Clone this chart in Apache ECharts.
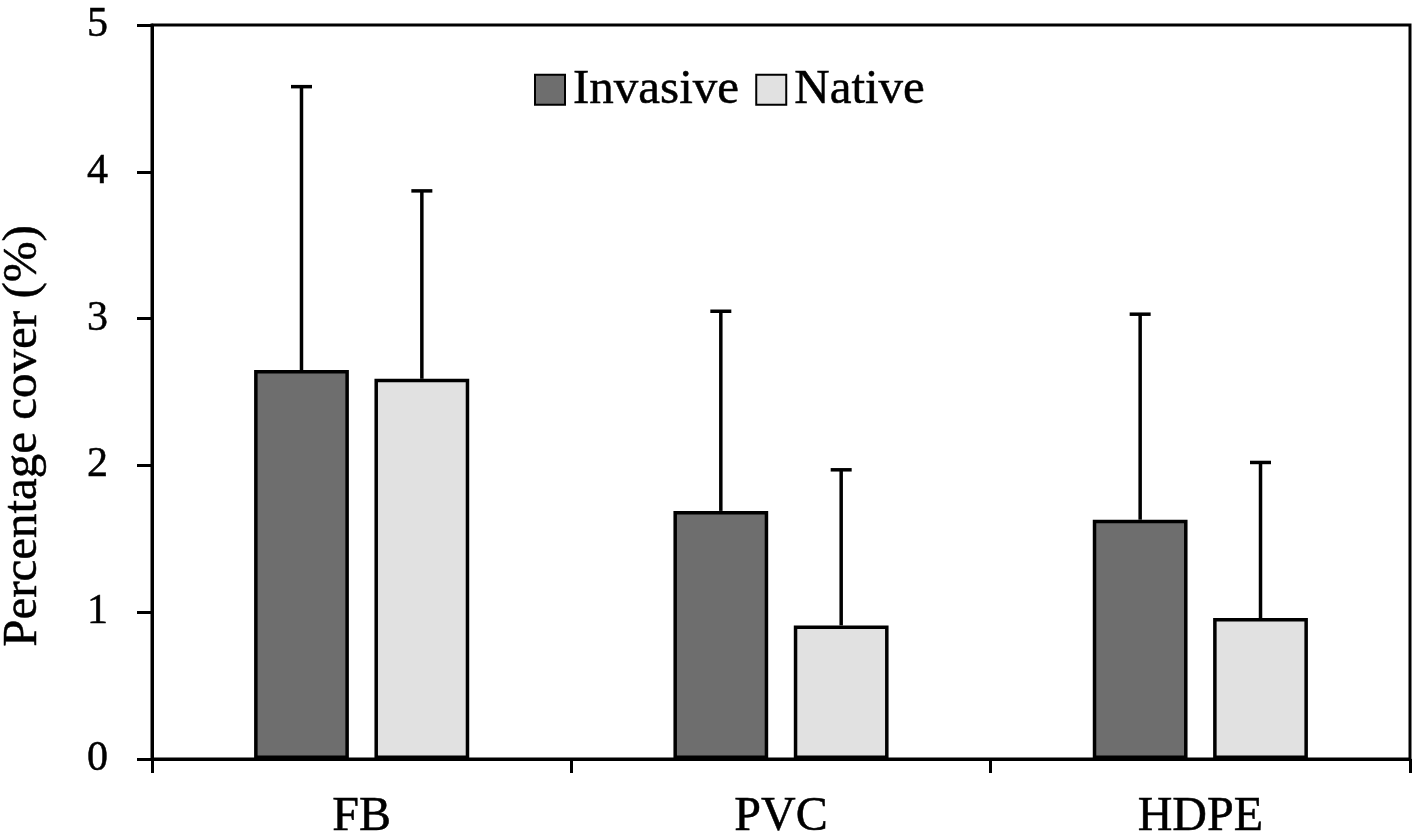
<!DOCTYPE html>
<html>
<head>
<meta charset="utf-8">
<script src="https://cdn.jsdelivr.net/npm/echarts@6/dist/echarts.min.js"></script>
<style>
html,body{margin:0;padding:0;background:#fff;}
#chart{width:1417px;height:839px;}
</style>
</head>
<body>
<div id="chart"></div>
<script>
var categories = ['FB', 'PVC', 'HDPE'];
var invasive = [2.65, 1.69, 1.63];
var native = [2.59, 0.91, 0.96];
var invasiveSD = [1.93, 1.36, 1.40];
var nativeSD = [1.28, 1.06, 1.06];
var yTicks = [0, 1, 2, 3, 4, 5];

var FONT = '"Liberation Serif", "Times New Roman", serif';
var BAR_W = 0.226;
var BAR_GAP = 0.27;
var TB = { textBorderColor: '#000', textBorderWidth: 0.5 };

function ts(size, extra) {
  var o = { fontFamily: FONT, fontSize: size, color: '#000', textBorderColor: TB.textBorderColor, textBorderWidth: TB.textBorderWidth };
  for (var k in extra) o[k] = extra[k];
  return o;
}

function errSeries(name, means, sds, side) {
  var data = means.map(function (m, i) { return [i, m, m + sds[i]]; });
  return {
    type: 'custom',
    name: name + ' error',
    z: 5,
    silent: true,
    data: data,
    renderItem: function (params, api) {
      var band = api.size([1, 0])[0];
      var bw = band * BAR_W;
      var off = side * (bw + bw * BAR_GAP) / 2;
      var base = api.coord([api.value(0), api.value(1)]);
      var top = api.coord([api.value(0), api.value(2)]);
      var x = base[0] + off;
      var cap = 10.5;
      var st = { stroke: '#000', lineWidth: 3.5 };
      return {
        type: 'group',
        children: [
          { type: 'line', shape: { x1: x, y1: base[1], x2: x, y2: top[1] }, style: st },
          { type: 'line', shape: { x1: x - cap, y1: top[1], x2: x + cap, y2: top[1] }, style: st }
        ]
      };
    }
  };
}

var chart = echarts.init(document.getElementById('chart'));
chart.setOption({
  animation: false,
  backgroundColor: '#fff',
  textStyle: { fontFamily: FONT, color: '#000' },
  grid: {
    left: 152, right: 7, top: 25, bottom: 80,
    containLabel: false,
    outerBoundsMode: 'none',
    show: true, borderColor: '#000', borderWidth: 3, backgroundColor: 'transparent'
  },
  legend: {
    left: 529, top: 60,
    itemWidth: 30, itemHeight: 30, itemGap: 16,
    icon: 'rect',
    textStyle: ts(49, { padding: [0, 0, 0, 3] }),
    data: ['Invasive', 'Native']
  },
  xAxis: {
    type: 'category',
    data: categories,
    axisLine: { show: true, lineStyle: { color: '#000', width: 3 } },
    axisTick: { show: true, length: 14, lineStyle: { color: '#000', width: 3 } },
    axisLabel: ts(48, { margin: 34 }),
    splitLine: { show: false }
  },
  yAxis: {
    type: 'value',
    min: yTicks[0], max: yTicks[yTicks.length - 1], interval: 1,
    name: 'Percentage cover (%)',
    nameLocation: 'middle',
    nameGap: 104,
    nameRotate: 90,
    nameTextStyle: ts(49, { padding: [0, 88, 0, 0] }),
    axisLine: { show: true, lineStyle: { color: '#000', width: 3 } },
    axisTick: { show: true, length: 15, lineStyle: { color: '#000', width: 3 } },
    axisLabel: ts(42, { margin: 44 }),
    splitLine: { show: false }
  },
  series: [
    {
      name: 'Invasive', type: 'bar', data: invasive,
      barWidth: (BAR_W * 100) + '%', barGap: (BAR_GAP * 100) + '%',
      itemStyle: { color: '#6e6e6e', borderColor: '#000', borderWidth: 3.5 }
    },
    {
      name: 'Native', type: 'bar', data: native,
      barWidth: (BAR_W * 100) + '%', barGap: (BAR_GAP * 100) + '%',
      itemStyle: { color: '#e1e1e1', borderColor: '#000', borderWidth: 3.5 }
    },
    errSeries('Invasive', invasive, invasiveSD, -1),
    errSeries('Native', native, nativeSD, 1)
  ]
});
</script>
</body>
</html>
